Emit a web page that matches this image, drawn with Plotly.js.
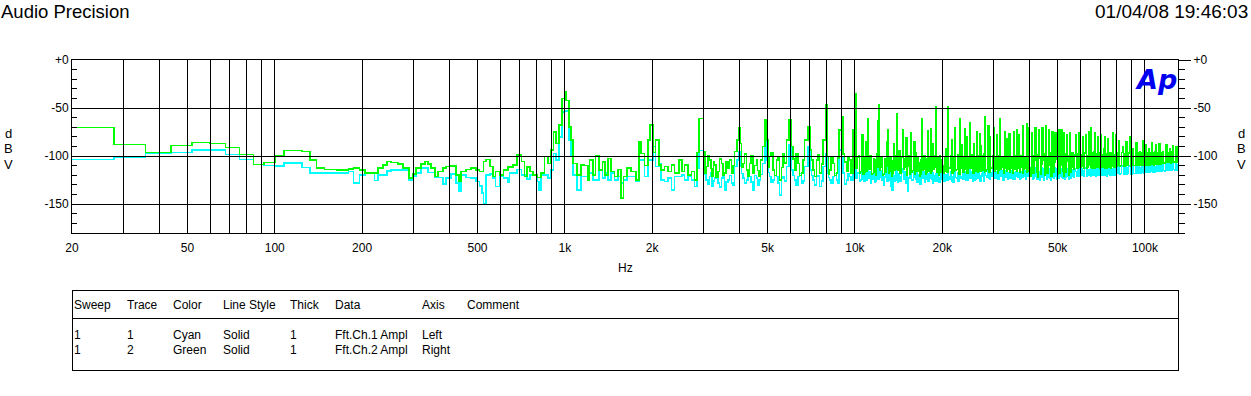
<!DOCTYPE html>
<html><head><meta charset="utf-8">
<script src="https://cdn.plot.ly/plotly-3.0.1.min.js"></script>
<style>html,body{margin:0;padding:0;background:#fff;}#chart{width:1251px;height:396px;}
#chart svg path{shape-rendering:crispEdges !important;}</style>
</head><body><div id="chart"></div>
<script>
// ---------- DATA ----------
// Low band (step FFT bins), Hz
const freqLow = [20,27.9,35.9,43.8,51.9,59.5,67.6,75.6,84.4,91.9,100,107.7,124.3,132.5,139.5,148.4,163.6,179.9,186.8,195.9,204.4,220.3,227.3,235.7,243.3,252,265.5,276.3,289.8,299.2,307.4,319.7,330,338.1,346.2,356.2,365.9,379.6,389.9,405.7,422.1,430.9,439.2,457.1,475.5,494.9,508,519,524.4,535.8,553.1,564.6,576.8,595.5,614.7,636,644.7,661.8,683.2,707.7,726.2,739.6,759.7,775.7,800.8,813.6,829.1,851.1,873.8,897.7,914.2,933.9,953.5,979.5,997.6,1011,1032,1052];
const ch1Low = [-103.3,-101.2,-97.1,-96,-93.4,-93.4,-98.1,-103.3,-108.5,-109.8,-110.5,-107.4,-111.6,-117.8,-117.8,-117.8,-117.8,-116.1,-128.1,-119.5,-117.8,-125.4,-119.5,-119.5,-115.4,-114.4,-114.4,-114.4,-124.7,-120.6,-117.8,-112.6,-112.6,-117.1,-117.1,-122,-122,-129.2,-123,-118.5,-128.1,-136.8,-119.5,-122,-123,-126.5,-130.9,-138.5,-149.6,-119.5,-118.5,-123,-131.6,-121.3,-123,-127,-117.8,-117.8,-113.7,-119.5,-119.5,-123.8,-119.5,-119.5,-126.5,-135.8,-119.5,-119.5,-123,-114.4,-97.1,-104,-79.9,-54,-53,-53,-83.3,-98.8];
const ch2Low = [-70.2,-87.8,-96,-88.8,-85.7,-86.7,-90.9,-98.1,-108.5,-106.4,-99.2,-94.4,-95.4,-104,-112.6,-113.7,-114.4,-113.4,-112.6,-114.4,-117.8,-117.8,-112.6,-109.2,-105.7,-106.8,-108.2,-112.6,-123,-118.8,-112.6,-108.2,-105.7,-108.2,-112.6,-121.3,-116.1,-112.6,-110.9,-110.3,-119.5,-126.5,-116.1,-113.7,-112.6,-114.4,-116.1,-116.1,-105.7,-103.3,-110.9,-121.3,-116.1,-119.5,-114.4,-111.1,-111.1,-109.2,-98.8,-105.7,-121.3,-111.1,-116.1,-119.5,-122,-122,-117.8,-100.6,-107.5,-93.7,-74.7,-86.8,-67.8,-40.2,-33.3,-41.9,-69.5,-83.3];

// Mid band 1 kHz - 3 kHz
const freqMid = [1066,1100,1139,1169,1200,1217,1249,1276,1310,1346,1374,1407,1445,1484,1523,1565,1594,1636,1694,1763,1800,1834,1883,1933,1970,2011,2055,2109,2150,2207,2266,2328,2390,2473,2540,2587,2656,2729,2801,2853];
const ch1Mid = [-119.5,-135,-121.3,-121.3,-124.7,-117.8,-124.7,-124.7,-114.4,-123,-117.8,-124.7,-117.8,-124.7,-121.3,-128.1,-124.7,-121.3,-121.3,-126.5,-104,-104,-121.3,-104,-104,-90.2,-110.9,-107.5,-124.7,-126.5,-123,-135.1,-121.3,-121.3,-119.5,-124.7,-121.3,-124.7,-131.6,-112.6];
const ch2Mid = [-107.5,-119.5,-109.2,-110,-124.7,-104,-119.5,-99.9,-114.4,-106,-119.5,-102.3,-116,-121.3,-114,-143.7,-121.3,-112.6,-116,-124.7,-85,-97.1,-110,-83.3,-67.8,-96,-83.3,-109.2,-114.4,-110.9,-116,-109.2,-117.8,-104,-116,-109.2,-119.5,-116,-124.7,-96];

// Harmonic band 3 kHz - 10 kHz
const freqHarm = [2898,3006,3039,3072,3113,3155,3189,3223,3253,3283,3326,3370,3416,3462,3508,3554,3601,3649,3698,3748,3798,3848,3918,3981,4025,4067,4110,4166,4222,4278,4335,4392,4450,4510,4571,4619,4667,4730,4794,4895,4949,5015,5081,5148,5215,5286,5358,5429,5501,5574,5647,5724,5801,5922,6037,6117,6197,6278,6360,6447,6535,6622,6709,6887,7019,7092,7166,7264,7362,7460,7558,7658,7758,7925,8032,8106,8181,8288,8396,8511,8627,8716,8806,8976,9090,9214,9339,9463,9587,9714,9842];
const ch1Harm = [-94,-110.9,-119,-124.7,-129,-121.3,-117,-131.6,-126,-123,-118,-128.1,-132,-123,-118,-135.1,-127,-124.7,-120,-128.1,-130,-110.9,-104,-95.4,-110.9,-118,-123,-128,-124.7,-118,-121.3,-127,-135.1,-120,-123,-130,-124.7,-119,-107.5,-81.6,-104,-117,-121.3,-127,-124.7,-120,-121.3,-128,-140.2,-123,-121.3,-126,-110.9,-88.5,-114.4,-120,-124.7,-130,-121.3,-118,-128.1,-126,-110.9,-90.2,-114.4,-120,-124.7,-130,-121.3,-120,-131.6,-126,-110.9,-97.8,-117.8,-122,-124.7,-128,-121.3,-118,-124.7,-128,-93.7,-100.5,-117.8,-129,-124.7,-118,-121.3,-125,-107.5];
const ch2Harm = [-61,-95.4,-118,-110.9,-100,-104,-113,-121.3,-106,-109.2,-122,-116,-103,-107.5,-120,-117.8,-106,-112.6,-104,-117.8,-110,-95.4,-83.3,-71,-86.8,-112,-107.5,-98,-114.4,-121,-107.5,-100,-117.8,-110,-104,-115,-121.3,-104,-90.2,-62.6,-83.3,-112,-100.5,-96,-114.4,-120,-104,-101,-124.7,-112,-97.8,-107,-83.3,-62.6,-90.2,-103,-114.4,-98,-107.5,-120,-117.8,-104,-83.3,-69.5,-93.7,-104,-114.4,-121,-104,-99,-117.8,-108,-83.3,-47,-100.5,-119,-114.4,-101,-107.5,-120,-117.8,-102,-73,-59,-97.8,-106,-116,-101,-104,-118,-73];

// High band 10 kHz - 130 kHz (dense harmonics / noise floor)
const freqHigh = [
10000,10075,10150,10225,10300,10375,10450,10525,10600,10675,10750,10825,10900,10975,11050,11125,11200,11275,11350,11425,11500,11575,11650,11725,11800,11875,11950,12025,12100,12175,12250,12325,12400,12475,12550,12625,12700,12775,12850,12925,13000,13075,13150,13225,13300,13375,13450,13525,13600,13675,13750,13825,13900,13975,
14000,14100,14200,14300,14400,14500,14600,14700,14800,14900,15000,15100,15200,15300,15400,15500,15600,15700,15800,15900,16000,16100,16200,16300,16400,16500,16600,16700,16800,16900,17000,17100,17200,17300,17400,17500,17600,17700,17800,17900,18000,18100,18200,18300,18400,18500,18600,18700,18800,18900,19000,19100,19200,19300,19400,19500,19600,19700,19800,19900,
20000,20150,20300,20450,20600,20750,20900,21050,21200,21350,21500,21650,21800,21950,22100,22250,22400,22550,22700,22850,23000,23150,23300,23450,23600,23750,23900,24050,24200,24350,24500,24650,24800,24950,25100,25250,25400,25550,25700,25850,26000,26150,26300,26450,26600,26750,26900,27050,27200,27350,27500,27650,27800,27950,
28000,28200,28400,28600,28800,29000,29200,29400,29600,29800,30000,30200,30400,30600,30800,31000,31200,31400,31600,31800,32000,32200,32400,32600,32800,33000,33200,33400,33600,33800,34000,34200,34400,34600,34800,35000,35200,35400,35600,35800,36000,36200,36400,36600,36800,37000,37200,37400,37600,37800,38000,38200,38400,38600,38800,39000,39200,39400,39600,39800,
40000,40300,40600,40900,41200,41500,41800,42100,42400,42700,43000,43300,43600,43900,44200,44500,44800,45100,45400,45700,46000,46300,46600,46900,47200,47500,47800,48100,48400,48700,49000,49300,49600,49900,50200,50500,50800,51100,51400,51700,52000,52300,52600,52900,53200,53500,53800,54100,54400,54700,55000,55300,55600,55900,
56000,56400,56800,57200,57600,58000,58400,58800,59200,59600,60000,60400,60800,61200,61600,62000,62400,62800,63200,63600,64000,64400,64800,65200,65600,66000,66400,66800,67200,67600,68000,68400,68800,69200,69600,70000,70400,70800,71200,71600,72000,72400,72800,73200,73600,74000,74400,74800,75200,75600,76000,76400,76800,77200,77600,78000,78400,78800,79200,79600,
80000,80600,81200,81800,82400,83000,83600,84200,84800,85400,86000,86600,87200,87800,88400,89000,89600,90200,90800,91400,92000,92600,93200,93800,94400,95000,95600,96200,96800,97400,98000,98600,99200,99800,100400,101000,101600,102200,102800,103400,104000,104600,105200,105800,106400,107000,107600,108200,108800,109400,110000,110600,111200,111800,
112000,112800,113600,114400,115200,116000,116800,117600,118400,119200,120000,120800,121600,122400,123200,124000,124800,125600,126400,127200,128000,128800,129600,130000];
const ch1High = [
-100,-123,-122,-117,-118,-126,-125,-116,-112,-124,-126,-117,-115,-125,-98,-121,-123,-116,-128,-119,-124,-115,-118,-127,-126,-117,-110,-124,-95,-122,-121,-115,-125,-118,-130,-121,-122,-116,-118,-126,-104,-123,-125,-117,-131,-122,-136,-119,-120,-126,-124,-116,-112,-125,
-127,-118,-121,-126,-126,-117,-113,-124,-124,-116,-128,-120,-137,-122,-123,-116,-108,-125,-125,-117,-102,-122,-124,-116,-127,-119,-121,-126,-129,-118,-96,-121,-123,-116,-127,-119,-124,-117,-118,-126,-126,-116,-112,-123,-124,-117,-128,-120,-121,-126,-118,-124,-126,-117,-122,-127,-127,-118,-124,-117,
-122,-117,-126,-120,-119,-125,-108,-121,-124,-116,-121,-126,-127,-118,-112,-122,-123,-117,-126,-119,-110,-123,-121,-117,-124,-118,-116,-125,-122,-117,-125,-119,-113,-123,-122,-116,-126,-118,-119,-125,-124,-117,-110,-122,-123,-116,-120,-126,-125,-118,-121,-116,-126,-119,
-107,-120,-122,-115,-116,-123,-124,-117,-121,-114,-114,-122,-123,-116,-119,-124,-124,-117,-110,-121,-121,-115,-125,-118,-115,-122,-122,-116,-124,-117,-118,-123,-123,-115,-120,-124,-117,-122,-124,-116,-115,-121,-122,-117,-119,-124,-123,-116,-118,-122,-113,-120,-121,-115,-124,-118,-112,-121,-120,-115,
-121,-114,-115,-124,-123,-113,-112,-121,-124,-116,-116,-125,-122,-112,-113,-122,-125,-115,-117,-124,-122,-113,-114,-123,-125,-116,-116,-122,-123,-112,-113,-121,-124,-115,-117,-123,-121,-113,-114,-122,-123,-116,-118,-124,-122,-113,-115,-121,-124,-116,-117,-123,-121,-114,
-115,-121,-122,-113,-116,-120,-121,-112,-114,-121,-120,-113,-115,-120,-121,-112,-113,-121,-120,-114,-114,-120,-121,-112,-115,-120,-120,-113,-113,-121,-120,-112,-115,-120,-119,-113,-113,-120,-120,-112,-114,-120,-119,-113,-113,-121,-119,-112,-114,-120,-120,-113,-113,-120,-119,-112,-114,-120,-120,-113,
-118,-111,-112,-119,-118,-110,-111,-118,-119,-111,-112,-119,-118,-110,-111,-118,-119,-111,-112,-118,-118,-110,-111,-118,-118,-110,-112,-118,-117,-110,-110,-117,-118,-110,-111,-117,-117,-109,-110,-117,-117,-109,-110,-116,-117,-109,-111,-117,-116,-109,-109,-116,-116,-108,
-110,-116,-116,-109,-109,-115,-116,-108,-108,-115,-115,-108,-108,-115,-115,-108,-108,-114,-115,-108,-109,-115,-114,-112];
const ch2High = [
-35,-113,-112,-101,-100,-118,-116,-103,-78,-119,-117,-102,-85,-116,-61,-110,-114,-100,-108,-119,-118,-103,-104,-117,-120,-98,-63,-112,-47,-115,-112,-101,-107,-120,-119,-104,-103,-117,-85,-111,-73,-118,-116,-102,-104,-121,-118,-105,-87,-115,-113,-100,-56,-114,
-115,-102,-94,-118,-117,-101,-73,-114,-112,-103,-81,-120,-111,-100,-119,-105,-76,-117,-115,-101,-85,-119,-97,-112,-116,-102,-107,-121,-119,-104,-61,-115,-114,-100,-100,-119,-117,-103,-74,-116,-113,-101,-72,-118,-116,-103,-87,-114,-112,-100,-49,-117,-115,-102,-108,-120,-100,-113,-117,-104,
-110,-118,-116,-101,-92,-117,-49,-112,-113,-100,-83,-118,-116,-102,-71,-115,-114,-100,-99,-119,-61,-113,-88,-117,-117,-102,-72,-114,-80,-118,-115,-101,-65,-113,-113,-99,-102,-118,-87,-114,-116,-101,-75,-117,-114,-100,-77,-116,-89,-112,-115,-100,-98,-117,
-59,-116,-114,-101,-68,-117,-80,-112,-113,-100,-71,-116,-114,-102,-78,-118,-115,-100,-61,-114,-112,-101,-105,-118,-75,-113,-82,-116,-114,-100,-77,-117,-113,-102,-102,-118,-75,-114,-112,-100,-73,-116,-113,-101,-78,-117,-112,-100,-100,-118,-68,-114,-113,-101,-108,-117,-66,-113,-70,-116,
-112,-121,-76,-100,-118,-104,-71,-99,-117,-122,-73,-102,-119,-108,-70,-98,-104,-120,-68,-101,-118,-110,-73,-97,-115,-121,-75,-100,-117,-106,-76,-103,-103,-119,-73,-99,-118,-109,-73,-101,-116,-121,-76,-98,-117,-105,-78,-100,-115,-120,-76,-102,-117,-110,
-96,-112,-114,-99,-78,-110,-113,-98,-76,-112,-112,-99,-80,-111,-113,-97,-78,-113,-112,-100,-75,-110,-71,-112,-113,-96,-95,-113,-76,-109,-112,-98,-80,-112,-113,-97,-78,-111,-112,-99,-92,-113,-80,-110,-113,-98,-82,-112,-112,-97,-97,-113,-111,-96,-76,-112,-112,-99,-78,-111,
-110,-97,-84,-111,-110,-96,-90,-109,-111,-98,-85,-110,-110,-97,-80,-111,-110,-96,-92,-110,-110,-98,-86,-109,-109,-96,-95,-110,-109,-97,-84,-109,-109,-96,-88,-110,-108,-97,-92,-109,-108,-96,-86,-108,-97,-109,-108,-95,-88,-108,-107,-96,-93,-108,
-87,-108,-107,-96,-95,-107,-107,-95,-88,-106,-106,-96,-92,-107,-106,-95,-89,-106,-106,-95,-90,-106,-105,-104];

// Axis ticks
const xGridVals = [20,30,40,50,60,70,80,90,100,200,300,400,500,600,700,800,900,1000,2000,3000,4000,5000,6000,7000,8000,9000,10000,20000,30000,40000,50000,60000,70000,80000,90000,100000];
const xTickText = ['20','','','50','','','','','100','200','','','500','','','','','1k','2k','','','5k','','','','','10k','20k','','','50k','','','','','100k'];
const yTickVals = [0,-50,-100,-150];
const yTickText = ['+0','-50','-100','-150'];
const yMinorVals = [-10,-20,-30,-40,-60,-70,-80,-90,-110,-120,-130,-140,-160,-170,-180];

// Table text
const tableHeaders = ['Sweep','Trace','Color','Line Style','Thick','Data','Axis','Comment'];
const tableRows = [
  ['1','1','Cyan','Solid','1','Fft.Ch.1 Ampl','Left'],
  ['1','2','Green','Solid','1','Fft.Ch.2 Ampl','Right']
];
const titleText = 'Audio Precision';
const dateText = '01/04/08 19:46:03';

// ---------- BUILD ----------
const freq = freqLow.concat(freqMid, freqHarm, freqHigh);
const ch1 = ch1Low.concat(ch1Mid, ch1Harm, ch1High);
const ch2 = ch2Low.concat(ch2Mid, ch2Harm, ch2High);

const FONT = 'Arial, "Liberation Sans", sans-serif';
const LEFT = 72, TOP = 60, PW = 1106, PH = 173;
const px2x = p => (p - LEFT) / PW;
const px2y = p => (TOP + PH - p) / PH;

const traces = [
  {x: freq, y: ch1, type: 'scatter', mode: 'lines', line: {color: '#00ffff', width: 1.5, shape: 'hv'}, yaxis: 'y', hoverinfo: 'skip'},
  {x: freq, y: ch2, type: 'scatter', mode: 'lines', line: {color: '#00ff00', width: 1.5, shape: 'hv'}, yaxis: 'y2', hoverinfo: 'skip'}
];

const shapes = [];
xGridVals.forEach(v => { if (v !== 20) shapes.push({type: 'line', xref: 'x', yref: 'paper', x0: v, x1: v, y0: 0, y1: 1, line: {color: '#000', width: 1}, layer: 'above'}); });
[-50, -100, -150].forEach(v => shapes.push({type: 'line', xref: 'paper', yref: 'y', x0: 0, x1: 1, y0: v, y1: v, line: {color: '#000', width: 1}, layer: 'above'}));
// table frame
shapes.push({type: 'rect', xref: 'paper', yref: 'paper', x0: px2x(72.5), x1: px2x(1178.5), y0: px2y(290.5), y1: px2y(370.5), line: {color: '#000', width: 1}});
shapes.push({type: 'line', xref: 'paper', yref: 'paper', x0: px2x(72.5), x1: px2x(1178.5), y0: px2y(318.5), y1: px2y(318.5), line: {color: '#000', width: 1}});

const ann = [];
function txt(text, px, py, size, xa, extra) {
  ann.push(Object.assign({text: text, xref: 'paper', yref: 'paper', x: px2x(px), y: px2y(py), xanchor: xa || 'left', yanchor: 'middle', showarrow: false, borderpad: 0, font: {family: FONT, size: size, color: '#000'}}, extra || {}));
}
txt(titleText, 0, 12, 18.5, 'left');
txt(dateText, 1249, 12, 19, 'right');
txt('Hz', 625, 268, 12, 'center');
['d', 'B', 'V'].forEach((c, i) => { txt(c, 8, 133 + i * 15.5, 13, 'center'); txt(c, 1241, 133 + i * 15.5, 13, 'center'); });
txt('<b><i>Ap</i></b>', 1178, 79, 27, 'right', {font: {family: '"DejaVu Sans", sans-serif', size: 27, color: '#0000f0'}});
const colX = [73, 126, 172, 222, 289, 334, 421, 466];
tableHeaders.forEach((h, i) => txt(h, colX[i], 305, 12, 'left'));
tableRows.forEach((r, j) => r.forEach((c, i) => txt(c, colX[i], 335 + j * 14.5, 12, 'left')));

const layout = {
  width: 1251, height: 396,
  margin: {l: LEFT, r: 1251 - LEFT - PW, t: TOP, b: 396 - TOP - PH, pad: 0},
  paper_bgcolor: '#fff', plot_bgcolor: '#fff',
  showlegend: false,
  font: {family: FONT, size: 12, color: '#000'},
  xaxis: {type: 'log', range: [Math.log10(20), Math.log10(130000)], tickmode: 'array', tickvals: xGridVals, ticktext: xTickText,
          showgrid: false, zeroline: false, showline: true, mirror: true, linecolor: '#000', linewidth: 1, ticks: '',
          ticklabelstandoff: 4, tickfont: {family: FONT, size: 12, color: '#000'}},
  yaxis: {range: [-180, 0], tickmode: 'array', tickvals: yTickVals, ticktext: yTickText, showgrid: false, zeroline: false,
          showline: true, mirror: true, linecolor: '#000', linewidth: 1, ticks: '',
          minor: {tickmode: 'array', tickvals: yMinorVals, ticks: 'inside', ticklen: 5, tickcolor: '#000', showgrid: false},
          tickfont: {family: FONT, size: 12, color: '#000'}},
  yaxis2: {range: [-180, 0], overlaying: 'y', side: 'right', tickmode: 'array', tickvals: yTickVals, ticktext: yTickText,
           showgrid: false, zeroline: false, showline: true, linecolor: '#000', linewidth: 1, ticks: 'outside', ticklen: 12, tickcolor: '#000',
           minor: {tickmode: 'array', tickvals: yMinorVals, ticks: 'outside', ticklen: 6, tickcolor: '#000', showgrid: false},
           tickfont: {family: FONT, size: 12, color: '#000'}},
  shapes: shapes,
  annotations: ann
};

Plotly.newPlot('chart', traces, layout, {staticPlot: true, displayModeBar: false});
</script>
</body></html>
